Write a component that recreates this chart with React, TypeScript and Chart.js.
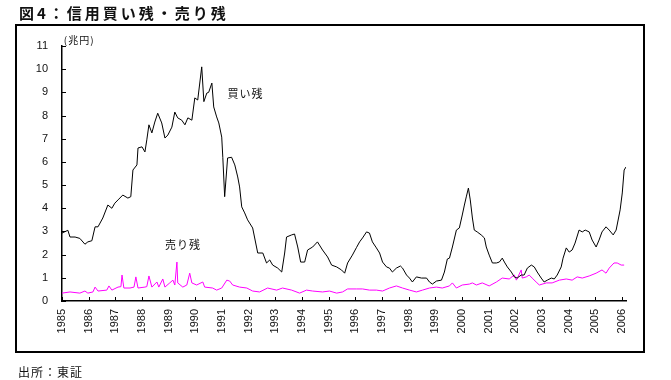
import React, { useEffect, useRef } from "react";
import { Chart, registerables } from "chart.js";

Chart.register(...registerables);

// ---- Data ----
const yearTicks = [1985, 1986, 1987, 1988, 1989, 1990, 1991, 1992, 1993, 1994, 1995, 1996, 1997, 1998, 1999, 2000, 2001, 2002, 2003, 2004, 2005, 2006];
const valueTicks = [0, 1, 2, 3, 4, 5, 6, 7, 8, 9, 10, 11];

// 買い残 (buy balance), 兆円
const buyYears = [
  1985.00, 1985.22, 1985.30, 1985.49, 1985.67, 1985.86, 1985.97,
  1986.12, 1986.24, 1986.35, 1986.53, 1986.72, 1986.87, 1986.98,
  1987.10, 1987.28, 1987.47, 1987.58, 1987.66, 1987.81, 1987.85,
  1988.00, 1988.11, 1988.18, 1988.26, 1988.37, 1988.48, 1988.59, 1988.74, 1988.86, 1988.97,
  1989.12, 1989.23, 1989.34, 1989.49, 1989.61, 1989.72, 1989.87, 1989.98,
  1990.09, 1990.24, 1990.32, 1990.43, 1990.50, 1990.62, 1990.69, 1990.80, 1990.88, 1990.99,
  1991.03, 1991.10, 1991.21, 1991.36, 1991.48, 1991.59, 1991.66, 1991.74, 1991.85, 1991.96,
  1992.15, 1992.34, 1992.53, 1992.67, 1992.79, 1992.90,
  1993.09, 1993.24, 1993.35, 1993.42, 1993.61, 1993.72, 1993.84, 1993.95,
  1994.10, 1994.21, 1994.40, 1994.58, 1994.77, 1994.96,
  1995.11, 1995.30, 1995.48, 1995.60, 1995.71, 1995.89,
  1996.04, 1996.16, 1996.27, 1996.42, 1996.53, 1996.64, 1996.79, 1996.91,
  1997.02, 1997.17, 1997.28, 1997.39, 1997.54, 1997.69, 1997.77, 1997.92,
  1998.03, 1998.14, 1998.29, 1998.48, 1998.67, 1998.78, 1998.89,
  1999.04, 1999.23, 1999.34, 1999.45, 1999.53, 1999.64, 1999.79, 1999.90,
  2000.01, 2000.09, 2000.16, 2000.24, 2000.31, 2000.39, 2000.46, 2000.57, 2000.72, 2000.84, 2000.91,
  2001.02, 2001.14, 2001.29, 2001.40, 2001.51, 2001.59, 2001.70, 2001.85, 2001.96,
  2002.07, 2002.22, 2002.33, 2002.45, 2002.60, 2002.71, 2002.82, 2002.97,
  2003.08, 2003.20, 2003.35, 2003.46, 2003.57, 2003.72, 2003.79, 2003.91,
  2004.02, 2004.13, 2004.24, 2004.39, 2004.51, 2004.62, 2004.77, 2004.88,
  2005.03, 2005.14, 2005.25, 2005.40, 2005.52, 2005.67, 2005.78, 2005.93,
  2006.01, 2006.08, 2006.15,
];
const buyValues = [
  2.93, 3.05, 2.76, 2.76, 2.70, 2.45, 2.55,
  2.60, 3.20, 3.20, 3.58, 4.14, 4.00, 4.22,
  4.36, 4.57, 4.44, 4.50, 5.65, 5.87, 6.60,
  6.65, 6.43, 6.95, 7.60, 7.25, 7.72, 8.10, 7.68, 7.03, 7.16,
  7.50, 8.15, 7.90, 7.80, 7.60, 7.90, 7.80, 8.76,
  8.67, 10.10, 8.60, 8.97, 9.00, 9.40, 8.37, 7.94, 7.68, 7.07,
  6.20, 4.50, 6.17, 6.20, 5.87, 5.35, 4.92, 4.06, 3.80, 3.50,
  3.15, 2.07, 2.07, 1.64, 1.77, 1.55,
  1.42, 1.25, 2.07, 2.76, 2.85, 2.89, 2.33, 1.68,
  1.68, 2.20, 2.33, 2.55, 2.20, 1.90,
  1.55, 1.47, 1.34, 1.20, 1.64, 1.98,
  2.30, 2.55, 2.72, 2.98, 2.93, 2.55, 2.29, 2.07,
  1.68, 1.47, 1.42, 1.25, 1.42, 1.51, 1.42, 1.12,
  0.99, 0.82, 1.04, 0.99, 0.99, 0.82, 0.73,
  0.86, 0.90, 1.25, 1.81, 1.85, 2.33, 3.06, 3.15,
  3.71, 4.14, 4.49, 4.87, 4.36, 3.58, 3.06, 2.98, 2.85, 2.72, 2.33,
  1.98, 1.64, 1.64, 1.68, 1.85, 1.68, 1.47, 1.25, 1.04,
  0.99, 1.12, 1.12, 1.42, 1.55, 1.47, 1.25, 0.99,
  0.82, 0.90, 0.99, 0.95, 1.12, 1.47, 1.85, 2.29,
  2.11, 2.20, 2.50, 3.06, 2.98, 3.06, 2.98, 2.63,
  2.33, 2.63, 2.98, 3.20, 3.06, 2.85, 3.06, 3.93,
  4.66, 5.65, 5.78,
];

// 売り残 (sell balance), 兆円
const sellYears = [
  1985.00, 1985.30, 1985.67, 1985.86, 1985.97,
  1986.16, 1986.24, 1986.35, 1986.68, 1986.76, 1986.87,
  1987.10, 1987.21, 1987.25, 1987.32, 1987.55, 1987.70, 1987.77, 1987.85,
  1988.11, 1988.18, 1988.26, 1988.37, 1988.56, 1988.63, 1988.78, 1988.86,
  1989.04, 1989.16, 1989.23, 1989.31, 1989.34, 1989.53, 1989.68, 1989.79, 1989.87,
  1990.05, 1990.28, 1990.35, 1990.65, 1990.80, 1990.99,
  1991.18, 1991.29, 1991.40, 1991.66, 1991.93,
  1992.15, 1992.41, 1992.71,
  1993.05, 1993.27, 1993.61, 1993.91,
  1994.17, 1994.40, 1994.77,
  1995.03, 1995.30, 1995.52, 1995.71,
  1996.04, 1996.27, 1996.53, 1996.79,
  1997.02, 1997.28, 1997.54, 1997.77,
  1998.03, 1998.29, 1998.52, 1998.78,
  1999.04, 1999.26, 1999.53, 1999.64, 1999.79,
  2000.01, 2000.28, 2000.39, 2000.54, 2000.76,
  2001.02, 2001.29, 2001.51, 2001.77, 2001.96,
  2002.04, 2002.22, 2002.26, 2002.41, 2002.52, 2002.63, 2002.78, 2002.90,
  2003.16, 2003.38, 2003.65, 2003.91,
  2004.13, 2004.32, 2004.51, 2004.77,
  2005.03, 2005.25, 2005.40, 2005.52, 2005.70, 2005.82, 2005.97,
  2006.08,
];
const sellValues = [
  0.34, 0.39, 0.34, 0.43, 0.34,
  0.39, 0.60, 0.43, 0.47, 0.65, 0.47,
  0.60, 0.62, 1.12, 0.56, 0.56, 0.60, 1.04, 0.56,
  0.60, 0.62, 1.08, 0.60, 0.82, 0.60, 0.95, 0.60,
  0.78, 0.90, 0.69, 1.68, 0.78, 0.60, 0.69, 1.20, 0.78,
  0.69, 0.82, 0.60, 0.56, 0.47, 0.56,
  0.90, 0.86, 0.69, 0.60, 0.56,
  0.43, 0.39, 0.56,
  0.47, 0.56, 0.47, 0.34,
  0.47, 0.43, 0.39,
  0.43, 0.34, 0.39, 0.52,
  0.52, 0.52, 0.47, 0.47,
  0.43, 0.56, 0.65, 0.56,
  0.47, 0.39, 0.47, 0.56,
  0.60, 0.56, 0.65, 0.78, 0.56,
  0.69, 0.73, 0.78, 0.69, 0.78,
  0.65, 0.82, 0.99, 0.95, 1.12,
  0.90, 1.34, 0.99, 1.04, 1.12, 0.99, 0.82, 0.69,
  0.78, 0.78, 0.90, 0.95,
  0.90, 1.04, 0.99, 1.08,
  1.20, 1.34, 1.20, 1.42, 1.64, 1.64, 1.55,
  1.55,
];

const titleText = "図4：信用買い残・売り残";
const sourceText = "出所：東証";
const unitText = "(兆円)";
const buyLabel = "買い残";
const sellLabel = "売り残";

const JP = '"Noto Sans CJK JP", "Noto Sans", sans-serif';
const NUM = '"Liberation Sans", Arial, sans-serif';

const annotationsPlugin = {
  id: "insideTicksAndLabels",
  afterDraw(chart: any) {
    const { ctx, chartArea, scales } = chart;
    const x = scales.x;
    const y = scales.y;
    ctx.save();
    ctx.strokeStyle = "#000";
    ctx.lineWidth = 1;
    valueTicks.forEach((v) => {
      const py = Math.round(y.getPixelForValue(v)) + 0.5;
      ctx.beginPath();
      ctx.moveTo(chartArea.left, py);
      ctx.lineTo(chartArea.left + 4, py);
      ctx.stroke();
    });
    yearTicks.forEach((v) => {
      const px = Math.round(x.getPixelForValue(v)) + 0.5;
      ctx.beginPath();
      ctx.moveTo(px, chartArea.bottom);
      ctx.lineTo(px, chartArea.bottom - 4);
      ctx.stroke();
    });
    ctx.fillStyle = "#111";
    ctx.textBaseline = "middle";
    ctx.textAlign = "left";
    const items = [
      { text: unitText, xv: 1985.07, yv: 11.26, size: 10 },
      { text: buyLabel, xv: 1991.21, yv: 8.93, size: 11 },
      { text: sellLabel, xv: 1988.86, yv: 2.42, size: 11 },
    ];
    items.forEach((it) => {
      ctx.font = `${it.size}px ${JP}`;
      try { (ctx as any).letterSpacing = "1px"; } catch (e) {}
      ctx.fillText(it.text, x.getPixelForValue(it.xv), y.getPixelForValue(it.yv));
    });
    ctx.restore();
  },
};

export default function App() {
  const ref = useRef<HTMLCanvasElement>(null);
  useEffect(() => {
    const canvas = ref.current;
    if (!canvas) return;
    const chart = new Chart(canvas, {
      type: "line",
      data: {
        datasets: [
          {
            label: buyLabel,
            data: buyYears.map((yr, i) => ({ x: yr, y: buyValues[i] })),
            borderColor: "#000000",
            borderWidth: 1,
            pointRadius: 0,
            tension: 0,
            fill: false,
          },
          {
            label: sellLabel,
            data: sellYears.map((yr, i) => ({ x: yr, y: sellValues[i] })),
            borderColor: "#FF00FF",
            borderWidth: 1,
            pointRadius: 0,
            tension: 0,
            fill: false,
          },
        ],
      },
      options: {
        responsive: false,
        animation: false,
        devicePixelRatio: 1,
        layout: { padding: { left: 22, right: 45, top: 46, bottom: 39 } },
        plugins: { legend: { display: false }, tooltip: { enabled: false } },
        scales: {
          x: {
            type: "linear",
            min: 1985,
            max: 2006.15,
            grid: { display: false, drawTicks: false },
            border: { display: true, color: "#000", width: 1.5 },
            afterBuildTicks: (s: any) => {
              s.ticks = yearTicks.map((v) => ({ value: v }));
            },
            afterFit: (s: any) => {
              s.height = 40;
            },
            ticks: {
              autoSkip: false,
              minRotation: 90,
              maxRotation: 90,
              padding: 8,
              color: "#111",
              font: { family: NUM, size: 11 },
              callback: (v: any) => String(v),
            },
          },
          y: {
            type: "linear",
            min: 0,
            max: 11,
            grid: { display: false, drawTicks: false },
            border: { display: true, color: "#000", width: 1.5 },
            afterBuildTicks: (s: any) => {
              s.ticks = valueTicks.map((v) => ({ value: v }));
            },
            afterFit: (s: any) => {
              s.width = 40;
            },
            ticks: {
              padding: 14,
              color: "#111",
              font: { family: NUM, size: 11 },
              callback: (v: any) => String(v),
            },
          },
        },
      },
      plugins: [annotationsPlugin],
    } as any);
    return () => chart.destroy();
  }, []);

  return (
    <div style={{ position: "fixed", left: 0, top: 0, width: 671, height: 380, background: "#fff", overflow: "hidden" }}>
      <canvas ref={ref} width={671} height={380} style={{ position: "absolute", left: 0, top: 0, width: 671, height: 380 }} />
      <div
        style={{
          position: "absolute",
          left: 15,
          top: 24,
          width: 630,
          height: 329,
          border: "2px solid #000",
          boxSizing: "border-box",
          pointerEvents: "none",
        }}
      />
      <div
        style={{
          position: "absolute",
          left: 19,
          top: 5,
          fontFamily: JP,
          fontWeight: 700,
          fontSize: 15,
          lineHeight: "16px",
          letterSpacing: "3px",
          color: "#111",
          whiteSpace: "nowrap",
        }}
      >
        {titleText}
      </div>
      <div
        style={{
          position: "absolute",
          left: 18,
          top: 365,
          fontFamily: JP,
          fontSize: 12,
          lineHeight: "13px",
          letterSpacing: "1px",
          color: "#111",
          whiteSpace: "nowrap",
        }}
      >
        {sourceText}
      </div>
    </div>
  );
}
